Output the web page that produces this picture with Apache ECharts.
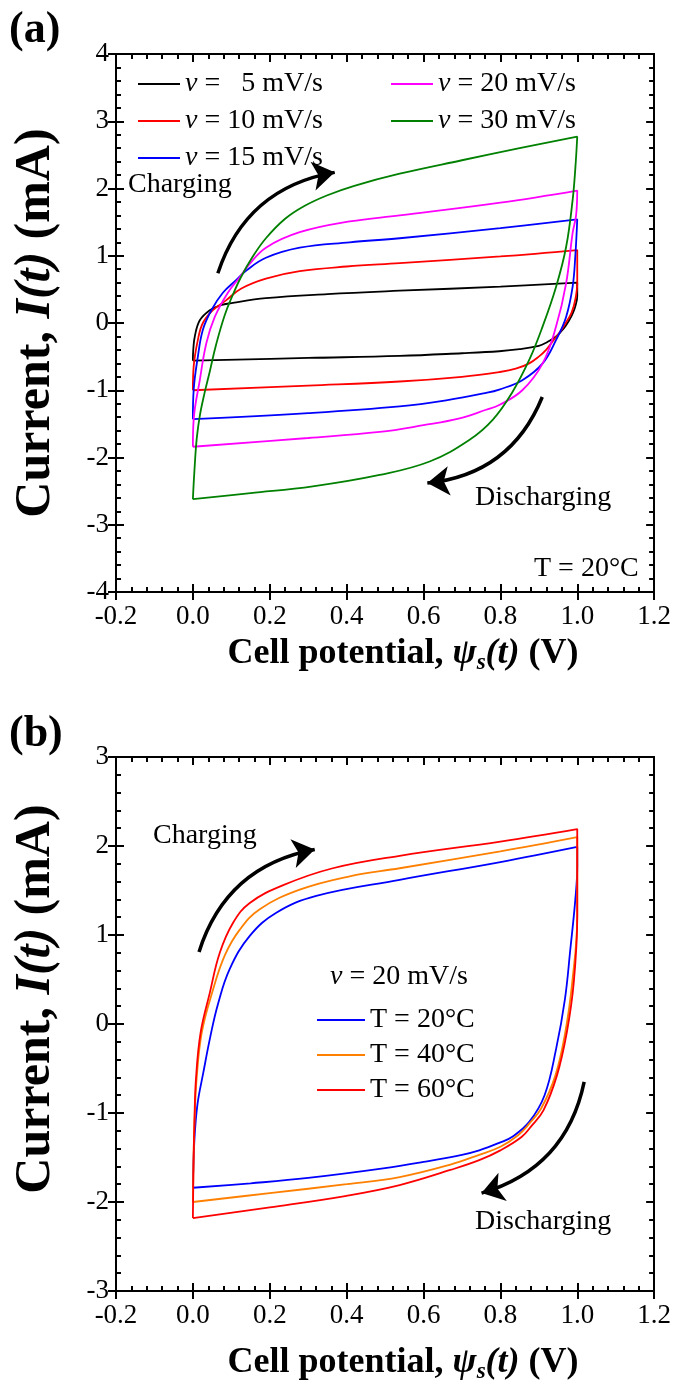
<!DOCTYPE html>
<html>
<head>
<meta charset="utf-8">
<script src="https://cdn.jsdelivr.net/npm/echarts@6/dist/echarts.min.js"></script>
<style>
html, body { margin: 0; padding: 0; background: #fff; }
#main { width: 674px; height: 1385px; }
</style>
</head>
<body>
<div id="main"></div>
<script>
// 基于准备好的dom，初始化echarts实例
var myChart = echarts.init(document.getElementById('main'));

var FONT = 'Liberation Serif';

// 轴刻度
var xTicks = [-0.2, 1.2, 0.2];
var yTicksA = [-4, 4, 1];
var yTicksB = [-3, 3, 1];

// (a) 不同扫描速率, [电位 V, 电流 mA], 先充电后放电
var namesA = ['ν =   5 mV/s', 'ν = 10 mV/s', 'ν = 15 mV/s', 'ν = 20 mV/s', 'ν = 30 mV/s'];
var colorsA = ['#000000', '#ff0000', '#0000ff', '#ff00ff', '#008000'];

var loopA5 = [
  [0, -0.56], [0.001, -0.40], [0.005, -0.20], [0.018, 0.04], [0.044, 0.19], [0.07, 0.26], [0.104, 0.30],
  [0.19, 0.37], [0.35, 0.43], [0.538, 0.48], [0.8, 0.54], [1.0, 0.60],
  [1.0, 0.40], [0.995, 0.25], [0.988, 0.14], [0.979, 0.04], [0.965, -0.08], [0.945, -0.20], [0.92, -0.29],
  [0.9, -0.34], [0.85, -0.39], [0.797, -0.42], [0.7, -0.45], [0.538, -0.49], [0.3, -0.52], [0, -0.56]
];
var loopA10 = [
  [0, -1.00], [0.002, -0.65], [0.013, -0.25], [0.026, 0.00], [0.052, 0.19], [0.087, 0.34], [0.125, 0.51],
  [0.19, 0.66], [0.278, 0.77], [0.4, 0.84], [0.538, 0.89], [0.8, 0.99], [1.0, 1.085],
  [1.0, 0.60], [0.995, 0.35], [0.985, 0.15], [0.97, 0.00], [0.953, -0.15], [0.935, -0.28], [0.919, -0.40],
  [0.9, -0.50], [0.875, -0.60], [0.84, -0.68], [0.797, -0.73], [0.7, -0.80], [0.538, -0.87], [0.3, -0.93], [0, -1.00]
];
var loopA15 = [
  [0, -1.43], [0.002, -1.00], [0.013, -0.50], [0.026, -0.10], [0.048, 0.19], [0.078, 0.45], [0.113, 0.64],
  [0.139, 0.78], [0.19, 0.97], [0.278, 1.12], [0.408, 1.20], [0.538, 1.26], [0.8, 1.41], [1.0, 1.54],
  [0.995, 1.00], [0.988, 0.54], [0.971, 0.09], [0.945, -0.25], [0.91, -0.60], [0.857, -0.85], [0.797, -0.99],
  [0.763, -1.04], [0.659, -1.15], [0.538, -1.24], [0.3, -1.34], [0, -1.43]
];
var loopA20 = [
  [0, -1.84], [0.002, -1.44], [0.018, -0.85], [0.035, -0.30], [0.057, 0.09], [0.091, 0.45], [0.122, 0.68],
  [0.145, 0.86], [0.19, 1.12], [0.278, 1.35], [0.408, 1.51], [0.538, 1.60], [0.8, 1.79], [1.0, 1.97],
  [0.997, 1.60], [0.988, 1.34], [0.971, 0.59], [0.945, -0.05], [0.91, -0.60], [0.857, -1.00], [0.797, -1.22],
  [0.763, -1.29], [0.694, -1.42], [0.6, -1.52], [0.486, -1.62], [0.3, -1.71], [0, -1.84]
];
var loopA30 = [
  [0, -2.62], [0.004, -2.20], [0.01, -1.72], [0.018, -1.38], [0.03, -1.05], [0.044, -0.72], [0.06, -0.33],
  [0.083, 0.12], [0.104, 0.42], [0.125, 0.68], [0.155, 0.98], [0.19, 1.26], [0.24, 1.55], [0.29, 1.74],
  [0.35, 1.90], [0.42, 2.04], [0.538, 2.22], [0.7, 2.42], [0.85, 2.60], [1.0, 2.77],
  [0.995, 2.30], [0.988, 1.83], [0.971, 1.13], [0.945, 0.54], [0.91, -0.05], [0.875, -0.55], [0.83, -1.04],
  [0.78, -1.44], [0.719, -1.74], [0.616, -2.06], [0.486, -2.26], [0.312, -2.43], [0.15, -2.53], [0, -2.62]
];
var loopsA = [loopA5, loopA10, loopA15, loopA20, loopA30];

// (b) ν = 20 mV/s, 不同温度
var namesB = ['T = 20°C', 'T = 40°C', 'T = 60°C'];
var colorsB = ['#0000ff', '#ff8000', '#ff0000'];

var loopB20 = [
  [0, -1.84], [0.004, -1.30], [0.012, -0.90], [0.027, -0.55], [0.045, -0.15], [0.065, 0.22], [0.096, 0.62],
  [0.148, 0.99], [0.217, 1.25], [0.321, 1.44], [0.538, 1.62], [0.8, 1.82], [1.0, 1.99],
  [1.0, 1.77], [0.995, 1.40], [0.982, 0.84], [0.968, 0.28], [0.945, -0.28], [0.915, -0.80], [0.875, -1.10],
  [0.83, -1.27], [0.8, -1.33], [0.745, -1.42], [0.7, -1.47], [0.6, -1.55], [0.5, -1.62], [0.3, -1.73],
  [0.15, -1.79], [0, -1.84]
];
var loopB40 = [
  [0, -2.00], [0.002, -1.45], [0.005, -1.00], [0.01, -0.60], [0.023, -0.10], [0.05, 0.35], [0.083, 0.77],
  [0.122, 1.06], [0.174, 1.29], [0.278, 1.51], [0.408, 1.66], [0.538, 1.75], [0.8, 1.94], [1.0, 2.10],
  [1.0, 1.21], [0.987, 0.47], [0.969, -0.09], [0.943, -0.58], [0.906, -0.95], [0.875, -1.12], [0.846, -1.25],
  [0.8, -1.38], [0.745, -1.47], [0.67, -1.58], [0.538, -1.72], [0.4, -1.80], [0.2, -1.90], [0, -2.00]
];
var loopB60 = [
  [0, -2.18], [0.002, -1.50], [0.004, -1.10], [0.008, -0.62], [0.02, -0.10], [0.044, 0.35], [0.07, 0.80],
  [0.105, 1.14], [0.148, 1.36], [0.235, 1.56], [0.364, 1.75], [0.538, 1.89], [0.8, 2.05], [1.0, 2.19],
  [1.0, 1.21], [0.991, 0.47], [0.973, -0.09], [0.947, -0.58], [0.912, -0.97], [0.88, -1.15], [0.855, -1.27],
  [0.8, -1.42], [0.745, -1.53], [0.67, -1.64], [0.538, -1.81], [0.4, -1.93], [0.2, -2.06], [0, -2.18]
];
var loopsB = [loopB20, loopB40, loopB60];

// 箭头 (起点, 终点)
var arrowsA = [
  [[0.065, 0.74], [0.369, 2.24]],
  [[0.909, -1.10], [0.61, -2.38]]
];
var arrowsB = [
  [[0.016, 0.81], [0.317, 1.96]],
  [[1.018, -0.65], [0.751, -1.90]]
];

var black = '#000';

function xAxes(grid, name, gap) {
  var base = { gridIndex: grid, type: 'value', min: xTicks[0], max: xTicks[1], interval: xTicks[2],
    splitLine: { show: false }, axisLine: { onZero: false, lineStyle: { color: black, width: 2 } } };
  return [
    Object.assign({}, base, {
      position: 'bottom',
      axisTick: { inside: false, length: 8, lineStyle: { color: black, width: 2 } },
      axisLabel: { color: black, fontFamily: FONT, fontSize: 27, margin: 11, formatter: function (v) { return v.toFixed(1); } },
      name: name, nameLocation: 'middle', nameGap: gap,
      nameTextStyle: {
        color: black, fontFamily: FONT, fontSize: 36, fontWeight: 'bold', padding: [0, 0, 0, 36],
        rich: {
          i: { fontFamily: FONT, fontSize: 36, fontWeight: 'bold', fontStyle: 'italic', color: black },
          s: { fontFamily: FONT, fontSize: 23, fontWeight: 'bold', fontStyle: 'italic', color: black, padding: [20, 0, 0, 0] }
        }
      }
    }),
    Object.assign({}, base, {
      position: 'bottom',
      axisTick: { inside: true, length: 8, lineStyle: { color: black, width: 2 } },
      minorTick: { show: true, splitNumber: 5, length: 5, lineStyle: { color: black, width: 2 } },
      axisLabel: { show: false }
    }),
    Object.assign({}, base, {
      position: 'top',
      axisTick: { inside: true, length: 8, lineStyle: { color: black, width: 2 } },
      minorTick: { show: true, splitNumber: 5, length: 5, lineStyle: { color: black, width: 2 } },
      axisLabel: { show: false }
    })
  ];
}

function yAxes(grid, t, name, shift) {
  var base = { gridIndex: grid, type: 'value', min: t[0], max: t[1], interval: t[2],
    splitLine: { show: false }, axisLine: { onZero: false, lineStyle: { color: black, width: 2 } } };
  return [
    Object.assign({}, base, {
      position: 'left',
      axisTick: { inside: false, length: 8, lineStyle: { color: black, width: 2 } },
      axisLabel: { color: black, fontFamily: FONT, fontSize: 27, margin: 7 },
      name: name, nameLocation: 'middle', nameGap: 55,
      nameTextStyle: {
        color: black, fontFamily: FONT, fontSize: 50, fontWeight: 'bold', padding: [0, 0, 0, shift],
        rich: { i: { fontFamily: FONT, fontSize: 50, fontWeight: 'bold', fontStyle: 'italic', color: black } }
      }
    }),
    Object.assign({}, base, {
      position: 'left',
      axisTick: { inside: true, length: 8, lineStyle: { color: black, width: 2 } },
      minorTick: { show: true, splitNumber: 5, length: 5, lineStyle: { color: black, width: 2 } },
      axisLabel: { show: false }
    }),
    Object.assign({}, base, {
      position: 'right',
      axisTick: { inside: true, length: 8, lineStyle: { color: black, width: 2 } },
      minorTick: { show: true, splitNumber: 5, length: 5, lineStyle: { color: black, width: 2 } },
      axisLabel: { show: false }
    })
  ];
}

var xName = '{b|Cell potential, }{i|ψ}{s|s}{i|(t)} (V)';
var yName = 'Current, {i|I(t)} (mA)';

var series = [];
loopsA.forEach(function (d, k) {
  series.push({
    name: namesA[k], type: 'line', xAxisIndex: 0, yAxisIndex: 0,
    data: d, smooth: 0.4, symbol: 'none', lineStyle: { color: colorsA[k], width: 1.8 },
    itemStyle: { color: colorsA[k] }
  });
});
loopsB.forEach(function (d, k) {
  series.push({
    name: namesB[k], type: 'line', xAxisIndex: 3, yAxisIndex: 3,
    data: d, smooth: 0.4, symbol: 'none', lineStyle: { color: colorsB[k], width: 1.8 },
    itemStyle: { color: colorsB[k] }
  });
});
[[arrowsA, 0], [arrowsB, 3]].forEach(function (a) {
  series.push({
    type: 'lines', coordinateSystem: 'cartesian2d', xAxisIndex: a[1], yAxisIndex: a[1],
    symbol: ['none', 'arrow'], symbolSize: [18, 22], silent: true,
    lineStyle: { color: black, width: 3.5, curveness: 0.3, opacity: 1 },
    data: a[0].map(function (c) { return { coords: c }; })
  });
});

var legendText = {
  color: black, fontFamily: FONT, fontSize: 28,
  rich: { i: { fontFamily: FONT, fontSize: 28, fontStyle: 'italic', color: black } }
};
function nuFormat(n) { return '{i|ν}' + n.slice(1); }

function txt(x, y, s, size, weight) {
  return { type: 'text', left: x, top: y, style: { text: s, font: (weight || 'normal') + ' ' + size + 'px "' + FONT + '"', fill: black } };
}

myChart.setOption({
  backgroundColor: '#fff',
  animation: false,
  grid: [
    { left: 116, top: 54, width: 540, height: 538 },
    { left: 116, top: 757, width: 540, height: 536 }
  ],
  xAxis: xAxes(0, xName, 40).concat(xAxes(1, xName, 50)),
  yAxis: yAxes(0, yTicksA, yName, 0).concat(yAxes(1, yTicksB, yName, 50)),
  legend: [
    { left: 133, top: 65, orient: 'vertical', itemWidth: 42, itemHeight: 2, itemGap: 9, icon: 'rect',
      data: namesA.slice(0, 3), formatter: nuFormat, textStyle: legendText, selectedMode: false },
    { left: 386, top: 65, orient: 'vertical', itemWidth: 42, itemHeight: 2, itemGap: 9, icon: 'rect',
      data: namesA.slice(3), formatter: nuFormat, textStyle: legendText, selectedMode: false },
    { left: 312, top: 1001, orient: 'vertical', itemWidth: 48, itemHeight: 2, itemGap: 7, icon: 'rect',
      data: namesB, textStyle: legendText, selectedMode: false }
  ],
  graphic: [
    txt(9, 9, '(a)', 44, 'bold'),
    txt(9, 713, '(b)', 44, 'bold'),
    txt(128, 171, 'Charging', 28),
    txt(475, 484, 'Discharging', 28),
    txt(534, 555, 'T = 20°C', 28),
    txt(153, 822, 'Charging', 28),
    txt(475, 1208, 'Discharging', 28),
    { type: 'text', left: 330, top: 963, style: { text: '{i|ν} = 20 mV/s', font: '28px "' + FONT + '"', fill: black,
      rich: { i: { font: 'italic 28px "' + FONT + '"', fill: black } } } }
  ],
  series: series
});
</script>
</body>
</html>
